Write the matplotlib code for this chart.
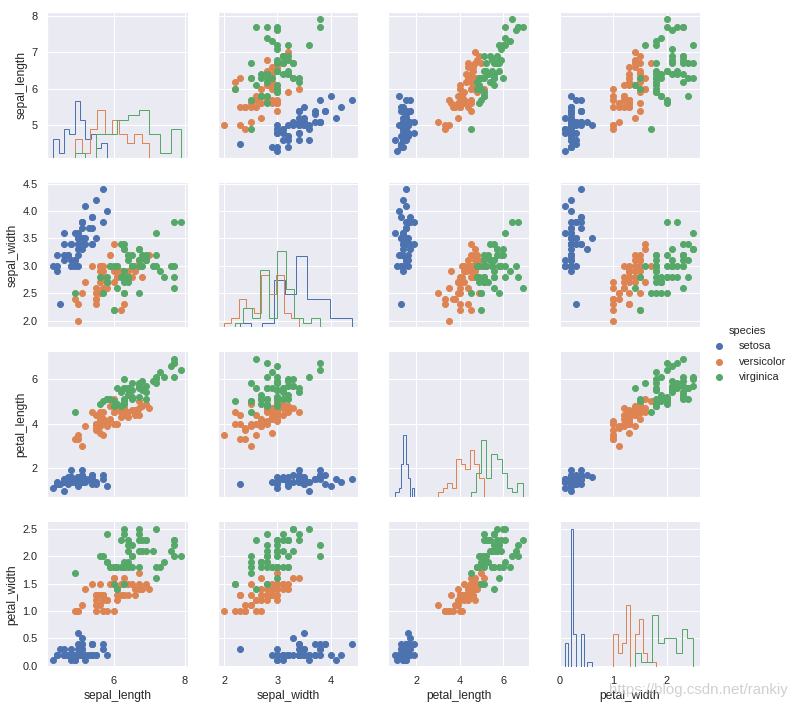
import matplotlib
matplotlib.use("Agg")
import matplotlib.pyplot as plt
from matplotlib.ticker import MultipleLocator
import pandas as pd
import seaborn as sns

# iris measurements, 50 rows per species
sepal_length = [
    5.1, 4.9, 4.7, 4.6, 5.0, 5.4, 4.6, 5.0, 4.4, 4.9, 5.4, 4.8, 4.8, 4.3, 5.8, 5.7, 5.4, 5.1, 5.7, 5.1,
    5.4, 5.1, 4.6, 5.1, 4.8, 5.0, 5.0, 5.2, 5.2, 4.7, 4.8, 5.4, 5.2, 5.5, 4.9, 5.0, 5.5, 4.9, 4.4, 5.1,
    5.0, 4.5, 4.4, 5.0, 5.1, 4.8, 5.1, 4.6, 5.3, 5.0,
    7.0, 6.4, 6.9, 5.5, 6.5, 5.7, 6.3, 4.9, 6.6, 5.2, 5.0, 5.9, 6.0, 6.1, 5.6, 6.7, 5.6, 5.8, 6.2, 5.6,
    5.9, 6.1, 6.3, 6.1, 6.4, 6.6, 6.8, 6.7, 6.0, 5.7, 5.5, 5.5, 5.8, 6.0, 5.4, 6.0, 6.7, 6.3, 5.6, 5.5,
    5.5, 6.1, 5.8, 5.0, 5.6, 5.7, 5.7, 6.2, 5.1, 5.7,
    6.3, 5.8, 7.1, 6.3, 6.5, 7.6, 4.9, 7.3, 6.7, 7.2, 6.5, 6.4, 6.8, 5.7, 5.8, 6.4, 6.5, 7.7, 7.7, 6.0,
    6.9, 5.6, 7.7, 6.3, 6.7, 7.2, 6.2, 6.1, 6.4, 7.2, 7.4, 7.9, 6.4, 6.3, 6.1, 7.7, 6.3, 6.4, 6.0, 6.9,
    6.7, 6.9, 5.8, 6.8, 6.7, 6.7, 6.3, 6.5, 6.2, 5.9,
]
sepal_width = [
    3.5, 3.0, 3.2, 3.1, 3.6, 3.9, 3.4, 3.4, 2.9, 3.1, 3.7, 3.4, 3.0, 3.0, 4.0, 4.4, 3.9, 3.5, 3.8, 3.8,
    3.4, 3.7, 3.6, 3.3, 3.4, 3.0, 3.4, 3.5, 3.4, 3.2, 3.1, 3.4, 4.1, 4.2, 3.1, 3.2, 3.5, 3.6, 3.0, 3.4,
    3.5, 2.3, 3.2, 3.5, 3.8, 3.0, 3.8, 3.2, 3.7, 3.3,
    3.2, 3.2, 3.1, 2.3, 2.8, 2.8, 3.3, 2.4, 2.9, 2.7, 2.0, 3.0, 2.2, 2.9, 2.9, 3.1, 3.0, 2.7, 2.2, 2.5,
    3.2, 2.8, 2.5, 2.8, 2.9, 3.0, 2.8, 3.0, 2.9, 2.6, 2.4, 2.4, 2.7, 2.7, 3.0, 3.4, 3.1, 2.3, 3.0, 2.5,
    2.6, 3.0, 2.6, 2.3, 2.7, 3.0, 2.9, 2.9, 2.5, 2.8,
    3.3, 2.7, 3.0, 2.9, 3.0, 3.0, 2.5, 2.9, 2.5, 3.6, 3.2, 2.7, 3.0, 2.5, 2.8, 3.2, 3.0, 3.8, 2.6, 2.2,
    3.2, 2.8, 2.8, 2.7, 3.3, 3.2, 2.8, 3.0, 2.8, 3.0, 2.8, 3.8, 2.8, 2.8, 2.6, 3.0, 3.4, 3.1, 3.0, 3.1,
    3.1, 3.1, 2.7, 3.2, 3.3, 3.0, 2.5, 3.0, 3.4, 3.0,
]
petal_length = [
    1.4, 1.4, 1.3, 1.5, 1.4, 1.7, 1.4, 1.5, 1.4, 1.5, 1.5, 1.6, 1.4, 1.1, 1.2, 1.5, 1.3, 1.4, 1.7, 1.5,
    1.7, 1.5, 1.0, 1.7, 1.9, 1.6, 1.6, 1.5, 1.4, 1.6, 1.6, 1.5, 1.5, 1.4, 1.5, 1.2, 1.3, 1.4, 1.3, 1.5,
    1.3, 1.3, 1.3, 1.6, 1.9, 1.4, 1.6, 1.4, 1.5, 1.4,
    4.7, 4.5, 4.9, 4.0, 4.6, 4.5, 4.7, 3.3, 4.6, 3.9, 3.5, 4.2, 4.0, 4.7, 3.6, 4.4, 4.5, 4.1, 4.5, 3.9,
    4.8, 4.0, 4.9, 4.7, 4.3, 4.4, 4.8, 5.0, 4.5, 3.5, 3.8, 3.7, 3.9, 5.1, 4.5, 4.5, 4.7, 4.4, 4.1, 4.0,
    4.4, 4.6, 4.0, 3.3, 4.2, 4.2, 4.2, 4.3, 3.0, 4.1,
    6.0, 5.1, 5.9, 5.6, 5.8, 6.6, 4.5, 6.3, 5.8, 6.1, 5.1, 5.3, 5.5, 5.0, 5.1, 5.3, 5.5, 6.7, 6.9, 5.0,
    5.7, 4.9, 6.7, 4.9, 5.7, 6.0, 4.8, 4.9, 5.6, 5.8, 6.1, 6.4, 5.6, 5.1, 5.6, 6.1, 5.6, 5.5, 4.8, 5.4,
    5.6, 5.1, 5.1, 5.9, 5.7, 5.2, 5.0, 5.2, 5.4, 5.1,
]
petal_width = [
    0.2, 0.2, 0.2, 0.2, 0.2, 0.4, 0.3, 0.2, 0.2, 0.1, 0.2, 0.2, 0.1, 0.1, 0.2, 0.4, 0.4, 0.3, 0.3, 0.3,
    0.2, 0.4, 0.2, 0.5, 0.2, 0.2, 0.4, 0.2, 0.2, 0.2, 0.2, 0.4, 0.1, 0.2, 0.2, 0.2, 0.2, 0.1, 0.2, 0.2,
    0.3, 0.3, 0.2, 0.6, 0.4, 0.3, 0.2, 0.2, 0.2, 0.2,
    1.4, 1.5, 1.5, 1.3, 1.5, 1.3, 1.6, 1.0, 1.3, 1.4, 1.0, 1.5, 1.0, 1.4, 1.3, 1.4, 1.5, 1.0, 1.5, 1.1,
    1.8, 1.3, 1.5, 1.2, 1.3, 1.4, 1.4, 1.7, 1.5, 1.0, 1.1, 1.0, 1.2, 1.6, 1.5, 1.6, 1.5, 1.3, 1.3, 1.3,
    1.2, 1.4, 1.2, 1.0, 1.3, 1.2, 1.3, 1.3, 1.1, 1.3,
    2.5, 1.9, 2.1, 1.8, 2.2, 2.1, 1.7, 1.8, 1.8, 2.5, 2.0, 1.9, 2.1, 2.0, 2.4, 2.3, 1.8, 2.2, 2.3, 1.5,
    2.3, 2.0, 2.0, 1.8, 2.1, 1.8, 1.8, 1.8, 2.1, 1.6, 1.9, 2.0, 2.2, 1.5, 1.4, 2.3, 2.4, 1.8, 1.8, 2.1,
    2.4, 2.3, 1.9, 2.3, 2.5, 2.3, 1.9, 2.0, 2.3, 1.8,
]
species = ["setosa"] * 50 + ["versicolor"] * 50 + ["virginica"] * 50

iris = pd.DataFrame({
    "sepal_length": sepal_length,
    "sepal_width": sepal_width,
    "petal_length": petal_length,
    "petal_width": petal_width,
    "species": species,
})

sns.set()
plt.rcParams["font.family"] = ["Liberation Sans", "DejaVu Sans"]

g = sns.PairGrid(iris, hue="species")
g.map_diag(plt.hist, histtype="step", linewidth=1)
g.map_offdiag(plt.scatter)
g.add_legend()
g._legend.get_title().set_fontsize(11)

# first column only gets ticks at 6 and 8 in the original
g.axes[-1, 0].xaxis.set_major_locator(MultipleLocator(2))

fig = g.fig
fig.set_size_inches(796 / 72, 708 / 72)
fig.subplots_adjust(left=0.059, right=0.879, top=0.982, bottom=0.058,
                    wspace=0.213, hspace=0.172)

# blog watermark in the lower right corner
fig.text(0.99, 0.016, "https://blog.csdn.net/rankiy", ha="right", va="bottom",
         fontsize=15, color="#c8c8c8", alpha=0.85)

fig.savefig("out.png", dpi=72)
